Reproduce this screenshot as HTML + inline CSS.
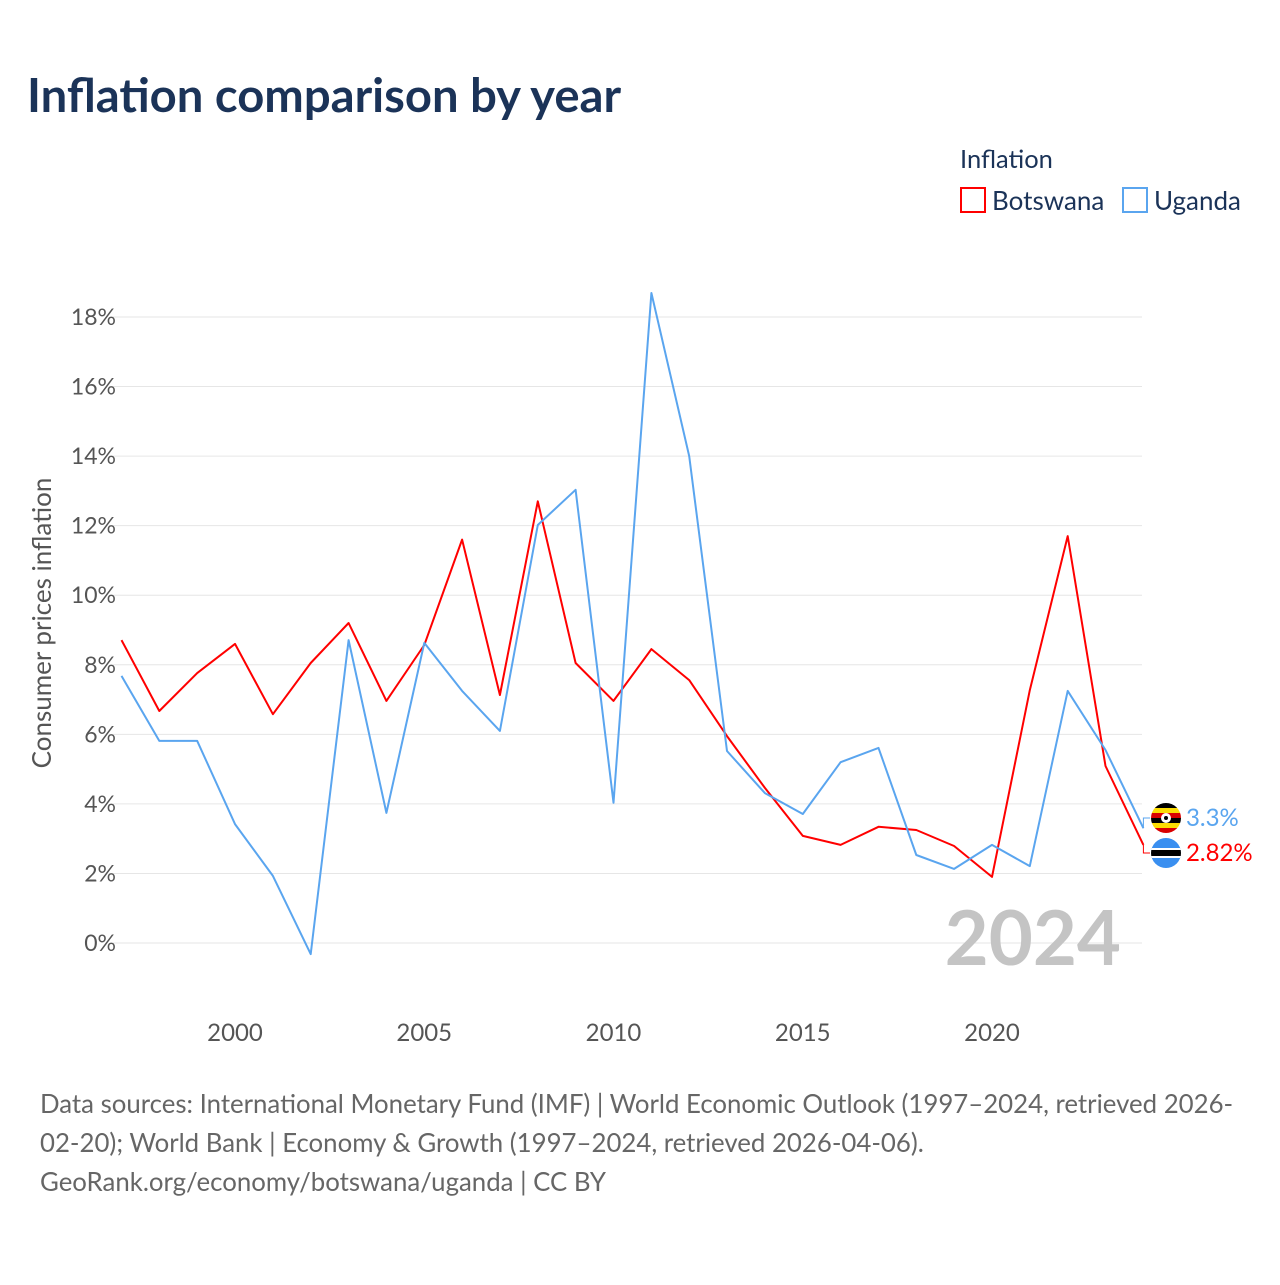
<!DOCTYPE html>
<html><head><meta charset="utf-8"><style>
body{margin:0;background:#fff;font-family:"Liberation Sans",sans-serif}
</style></head><body>
<svg width="1280" height="1280" viewBox="0 0 1280 1280" xmlns="http://www.w3.org/2000/svg" font-family="Lato, 'Liberation Sans', sans-serif">
<text x="27" y="112" font-size="47.2" font-weight="bold" fill="#1b3358">Inflation comparison by year</text>
<text x="960" y="168" font-size="25.5" fill="#1b3358">Inflation</text>
<g><rect x="961" y="188" width="24" height="24" fill="none" stroke="#ff0000" stroke-width="2"/><text x="992" y="210" font-size="26" fill="#1b3358">Botswana</text></g>
<g><rect x="1123" y="188" width="24" height="24" fill="none" stroke="#5aa5ef" stroke-width="2"/><text x="1154" y="210" font-size="26" fill="#1b3358">Uganda</text></g>
<g id="grid"></g>
<g id="yt"></g>
<g id="xt"></g>
<text transform="translate(51,623) rotate(-90)" text-anchor="middle" font-size="26" fill="#555">Consumer prices inflation</text>
<text x="1121" y="965" text-anchor="end" font-size="76" font-weight="bold" fill="#c4c4c4">2024</text>
<g id="series"></g>
<g>
<clipPath id="cu"><circle cx="1166" cy="818" r="15"/></clipPath>
<g clip-path="url(#cu)"><rect x="1150" y="803" width="32" height="5" fill="#000"/><rect x="1150" y="808" width="32" height="5" fill="#fcdc04"/><rect x="1150" y="813" width="32" height="5" fill="#d90000"/><rect x="1150" y="818" width="32" height="5" fill="#000"/><rect x="1150" y="823" width="32" height="5" fill="#fcdc04"/><rect x="1150" y="828" width="32" height="6" fill="#d90000"/><circle cx="1166" cy="818" r="5" fill="#fff"/><circle cx="1166" cy="818" r="2" fill="#000"/></g></g>
<g>
<clipPath id="cb"><circle cx="1166" cy="853" r="15"/></clipPath>
<g clip-path="url(#cb)"><rect x="1150" y="837" width="32" height="32" fill="#3a8ff0"/><rect x="1150" y="848" width="32" height="10" fill="#fff"/><rect x="1150" y="850" width="32" height="6" fill="#000"/></g></g>
<text x="1186" y="826" font-size="24" fill="#5aa5ef">3.3%</text>
<text x="1186" y="861" font-size="24" fill="#ff0000">2.82%</text>
<g font-size="25.8" fill="#666">
<text x="40" y="1113">Data sources: International Monetary Fund (IMF) | World Economic Outlook (1997–2024, retrieved 2026-</text>
<text x="40" y="1152">02-20); World Bank | Economy &amp; Growth (1997–2024, retrieved 2026-04-06).</text>
<text x="40" y="1191">GeoRank.org/economy/botswana/uganda | CC BY</text>
</g>
</svg>
<script>
const years=[1997,1998,1999,2000,2001,2002,2003,2004,2005,2006,2007,2008,2009,2010,2011,2012,2013,2014,2015,2016,2017,2018,2019,2020,2021,2022,2023,2024];
const botswana=[8.71,6.67,7.76,8.6,6.58,8.05,9.2,6.96,8.57,11.6,7.13,12.7,8.05,6.96,8.45,7.56,5.95,4.46,3.08,2.82,3.34,3.25,2.79,1.9,7.27,11.7,5.09,2.82];
const uganda=[7.68,5.81,5.81,3.42,1.93,-0.32,8.71,3.74,8.63,7.25,6.1,12.02,13.03,4.03,18.69,14.0,5.52,4.31,3.71,5.2,5.61,2.53,2.13,2.82,2.21,7.25,5.55,3.3];
const yTicks=[0,2,4,6,8,10,12,14,16,18];
const xTicks=[2000,2005,2010,2015,2020];
const NS="http://www.w3.org/2000/svg";
const x=v=>235+(v-2000)*(992-235)/20;
const y=v=>943-v*(943-317)/18;
function mk(t,a,p){const e=document.createElementNS(NS,t);for(const k in a)e.setAttribute(k,a[k]);p.appendChild(e);return e;}
const grid=document.getElementById('grid'),yt=document.getElementById('yt'),xt=document.getElementById('xt'),ser=document.getElementById('series');
yTicks.forEach(v=>{
 const l=mk('line',{x1:113,x2:1142,y1:y(v),y2:y(v),stroke:'#e6e6e6','stroke-width':1},grid);
 
 
 const t=mk('text',{x:116,y:y(v)+8,'text-anchor':'end','font-size':23,fill:'#555'},yt);
 t.textContent=v+'%';
 
 
});
xTicks.forEach(v=>{
 const t=mk('text',{x:x(v),y:1041,'text-anchor':'middle','font-size':24,fill:'#555'},xt);
 t.textContent=v;
 
 
});
function line(data,color,name){
 const p=mk('path',{d:data.map((v,i)=>(i?'L':'M')+x(years[i]).toFixed(1)+','+y(v).toFixed(1)).join(''),fill:'none',stroke:color,'stroke-width':2,'stroke-linejoin':'round'},ser);
 
 
}
line(botswana,'#ff0000','botswana-line');
line(uganda,'#5aa5ef','uganda-line');
const n=years.length-1,ex=x(years[n]);
const c1=mk('path',{d:`M${ex},${y(uganda[n])}V818H1150`,fill:'none',stroke:'#5aa5ef','stroke-width':1},ser);


const c2=mk('path',{d:`M${ex},${y(botswana[n])}V853H1150`,fill:'none',stroke:'#ff0000','stroke-width':1},ser);


</script>
</body></html>
